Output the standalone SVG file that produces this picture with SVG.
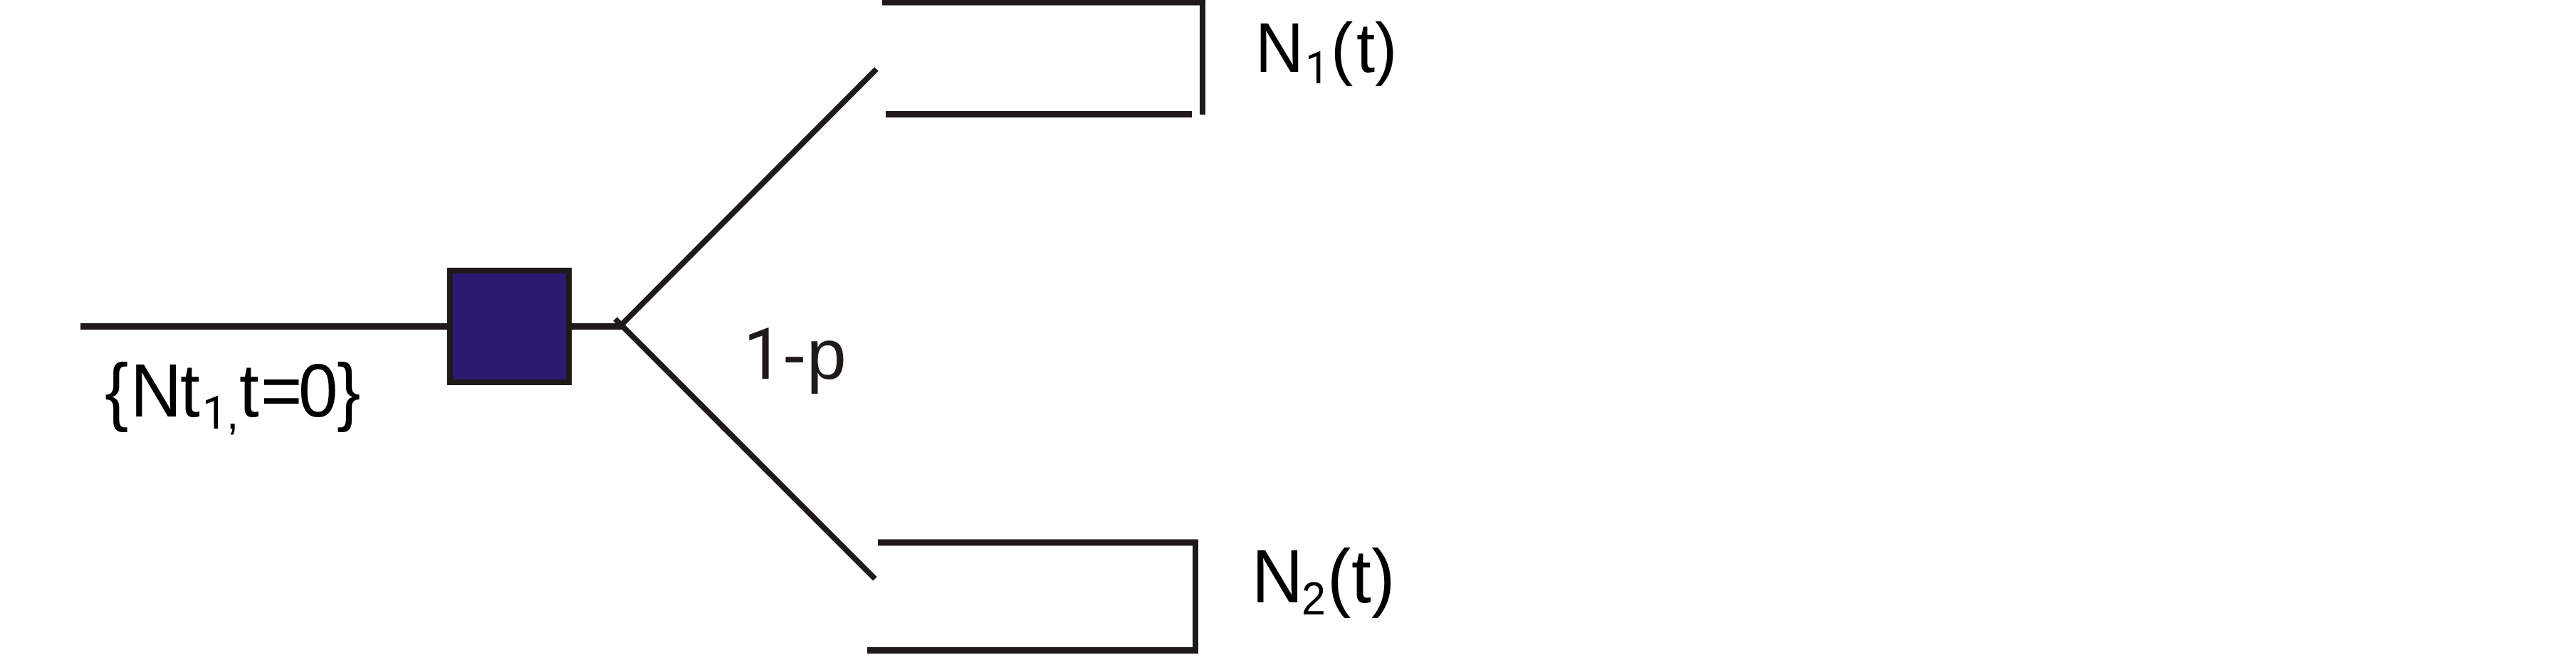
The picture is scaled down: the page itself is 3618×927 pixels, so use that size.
<svg xmlns="http://www.w3.org/2000/svg" width="3618" height="927" viewBox="0 0 3618 927">
<style>
.l{stroke:#1f1a17;stroke-width:8;fill:none}
.h{stroke-width:9}
.t{font-family:"Liberation Sans",Arial,sans-serif;fill:#000}
.r{font-family:Roboto,"Liberation Sans",sans-serif}
</style>
<rect width="3618" height="927" fill="#fff"/>
<g id="connectors">
<path class="l h" d="M113 458.500H632"/>
<path class="l h" d="M799 458.500H874"/>
<path class="l" d="M873 456L1231 97"/>
<path class="l" d="M864 448L1229 813"/>
<path class="l h" d="M1239 3H1693"/>
<path class="l" d="M1689 0V161"/>
<path class="l h" d="M1244 160.500H1674"/>
<path class="l h" d="M1233 762H1683"/>
<path class="l" d="M1679 758V918"/>
<path class="l h" d="M1218 913.500H1683"/>
</g>
<g id="splitter"><rect x="632" y="380" width="167" height="157" fill="#2a1a70" stroke="#1f1a17" stroke-width="8"/></g>
<g id="label-input"><text class="t" transform="translate(0,585) scale(1,1.05)" font-size="100"><tspan x="147" y="0">{</tspan><tspan x="183">N</tspan><tspan x="253">t</tspan><tspan class="r" font-size="62" x="284" y="16">1</tspan><tspan font-size="62" x="318" y="16">,</tspan><tspan x="336" y="0">t</tspan><tspan x="366">=</tspan><tspan x="419">0</tspan><tspan x="473">}</tspan></text></g>
<g id="label-n1"><text class="t" transform="translate(0,101) scale(1,1.05)" font-size="94"><tspan x="1763" y="0">N</tspan><tspan class="r" font-size="60" x="1833" y="15">1</tspan><tspan x="1869" y="0">(</tspan><tspan x="1905">t</tspan><tspan x="1931">)</tspan></text></g>
<g id="label-n2"><text class="t" transform="translate(0,846) scale(1,1.05)" font-size="100"><tspan x="1758" y="0">N</tspan><tspan font-size="61" x="1828" y="16">2</tspan><tspan x="1864" y="0">(</tspan><tspan x="1898">t</tspan><tspan x="1926">)</tspan></text></g>
<g id="label-p"><text class="t" y="532" font-size="100" style="fill:#1f1a17"><tspan class="r" x="1044">1</tspan><tspan x="1099">-</tspan><tspan x="1133">p</tspan></text></g>
</svg>
